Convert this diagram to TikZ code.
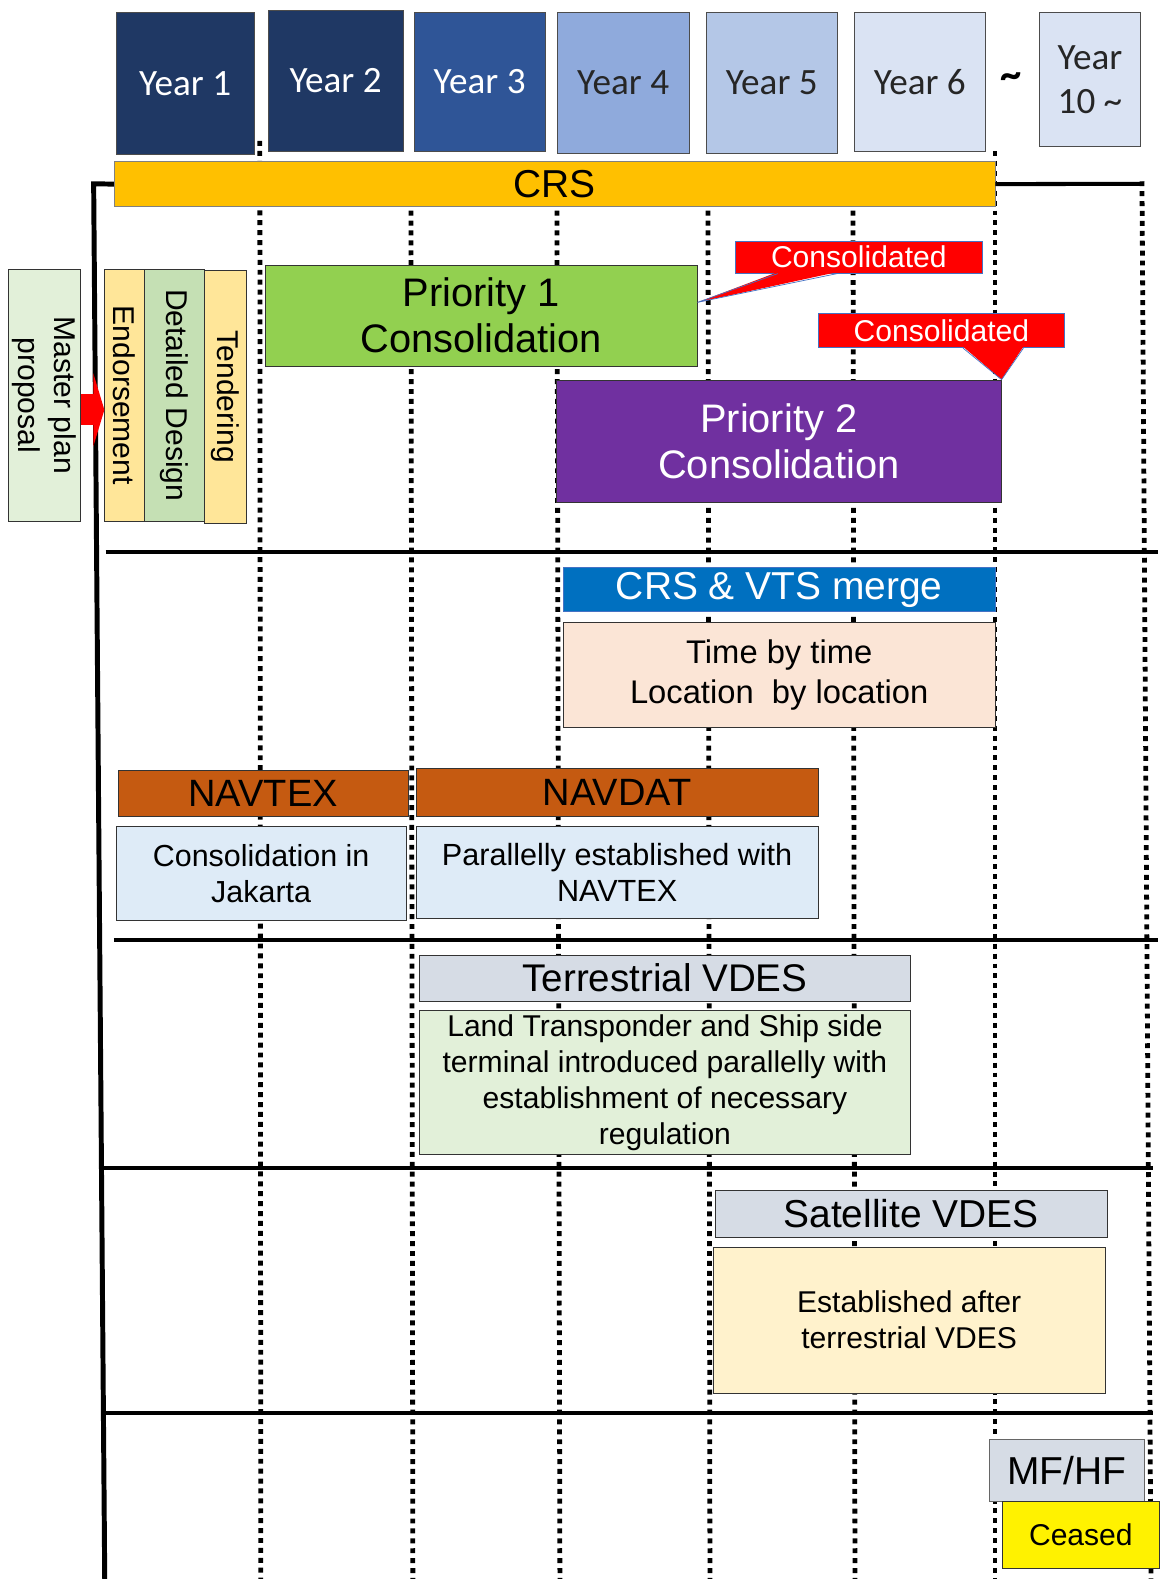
\documentclass[tikz,border=0pt]{standalone}
\usepackage{fontspec}
\setmainfont{Liberation Sans}
\newfontfamily\yearfont{Carlito}
\usepackage{tikz}
\usetikzlibrary{arrows.meta,calc}
\definecolor{yearone}{RGB}{31,56,100}
\definecolor{yearthree}{RGB}{47,85,151}
\definecolor{yearfour}{RGB}{143,170,220}
\definecolor{yearfive}{RGB}{180,199,231}
\definecolor{yearsix}{RGB}{218,227,243}
\definecolor{crsorange}{RGB}{255,192,0}
\definecolor{palegreen}{RGB}{226,240,217}
\definecolor{paleyellow}{RGB}{255,230,153}
\definecolor{sagegreen}{RGB}{197,224,180}
\definecolor{limegreen}{RGB}{146,208,80}
\definecolor{prioritypurple}{RGB}{112,48,160}
\definecolor{vtsblue}{RGB}{0,112,192}
\definecolor{peach}{RGB}{251,229,214}
\definecolor{rust}{RGB}{197,90,17}
\definecolor{iceblue}{RGB}{222,235,247}
\definecolor{slate}{RGB}{214,220,229}
\definecolor{cream}{RGB}{255,242,204}
\definecolor{tagblue}{RGB}{68,114,196}
\newcommand\fsz[2]{\fontsize{#1}{#2}\selectfont}

\tikzset{
  yearbox/.style={draw=black!70,anchor=north west,inner sep=0pt,align=center,
    font=\yearfont\fsz{21}{25}},
  taskbox/.style={draw=black!80,anchor=north west,inner sep=0pt,align=center},
  vbox/.style={draw=black!80,rotate=-90,inner sep=0pt,align=center,font=\fsz{17}{20}},
  redtag/.style={fill=red,draw=tagblue,thin,text=white,anchor=north west,inner sep=0pt,
    font=\fsz{17}{20}},
  gridline/.style={line width=2.7pt,dash pattern=on 2.8pt off 2.8pt},
  rowline/.style={line width=2.3pt},
  planarrow/.style={draw=red,line width=0.62cm,-{Triangle[width=1.45cm,length=0.22cm]}}
}

\begin{document}
\begin{tikzpicture}[x=0.02cm,y=-0.02cm]
\useasboundingbox (0,0) rectangle (1153,1568);

% time grid
\foreach \x/\ya/\xb in {258/140/259, 408/160/410, 553/160/556, 703/160/705, 847/160/849, 988/150/988, 1134/180/1143}
  \draw[gridline] (\x,\ya) -- (\xb,1568);
\foreach \y/\xa/\xb in {548/105/1150, 933/113/1150, 1160/103/1145, 1403/103/1145}
  \draw[rowline] (\xa,\y) -- (\xb,\y);

% years
\node[yearbox,fill=yearone,text=white,minimum width=2.74cm,minimum height=2.82cm] (y1) at (115,12) {Year 1};
\node[yearbox,fill=yearone,text=white,minimum width=2.68cm,minimum height=2.80cm] (y2) at (266,10) {Year 2};
\node[yearbox,fill=yearthree,text=white,minimum width=2.60cm,minimum height=2.76cm] (y3) at (411,12) {Year 3};
\node[yearbox,fill=yearfour,text=black!85,minimum width=2.62cm,minimum height=2.80cm] (y4) at (553,12) {Year 4};
\node[yearbox,fill=yearfive,text=black!85,minimum width=2.60cm,minimum height=2.80cm] (y5) at (701,12) {Year 5};
\node[yearbox,fill=yearsix,text=black!85,minimum width=2.60cm,minimum height=2.76cm] (y6) at (848,12) {Year 6};
\node[font=\yearfont\bfseries\fsz{24}{26}] (tilde) at (1004,80) {\textasciitilde};
\node[yearbox,fill=yearsix,text=black!85,minimum width=2.00cm,minimum height=2.66cm] (y10) at (1032,12) {Year\\10 \textasciitilde};

% CRS
\node[taskbox,fill=crsorange,draw=black!50,minimum width=17.50cm,minimum height=0.90cm,font=\fsz{22}{24}] (crs) at (113,160) {CRS};
\coordinate (crsend) at (1136,182.5);
\coordinate (spinetop) at (93,182.5);
\coordinate (spinebot) at (104,1568);
\draw[line width=2.3pt] (crs.east) -- (crsend);
\draw[line width=2.8pt] (crs.west) -- (spinetop) -- (spinebot);

% preparation
\node[vbox,fill=palegreen,minimum width=5.02cm,minimum height=1.44cm] (master) at (44,392.5) {Master plan\\proposal};
\node[vbox,fill=paleyellow,minimum width=5.02cm,minimum height=0.78cm] (endorse) at (123.5,392.5) {Endorsement};
\node[vbox,fill=sagegreen,minimum width=5.02cm,minimum height=1.20cm] (design) at (173,392.5) {Detailed Design};
\node[vbox,fill=paleyellow,minimum width=5.04cm,minimum height=0.84cm] (tender) at (224,394) {Tendering};
\draw[planarrow] ([yshift=-0.29cm]master.north) -- ([yshift=-0.29cm]endorse.south);

% priorities
\node[taskbox,fill=limegreen,minimum width=8.58cm,minimum height=2.00cm,font=\fsz{22.5}{26}] (prio1) at (263,263) {Priority 1\\Consolidation};
\node[taskbox,fill=prioritypurple,text=white,minimum width=8.84cm,minimum height=2.44cm,font=\fsz{22.5}{26}] (prio2) at (552,377) {Priority 2\\Consolidation};
\node[redtag,minimum width=4.90cm,minimum height=0.64cm] (tagone) at (730,239) {Consolidated};
\node[redtag,minimum width=4.90cm,minimum height=0.68cm] (tagtwo) at (812,311) {Consolidated};
\coordinate (tipone) at ($(prio1.north east)!0.37!(prio1.south east)$);
\fill[red] ([xshift=-1.61cm,yshift=0.03cm]tagone.south) -- (tipone) -- ([xshift=-0.43cm,yshift=0.03cm]tagone.south) -- cycle;
\draw[tagblue,thin] ([xshift=-1.61cm]tagone.south) -- (tipone) -- ([xshift=-0.43cm]tagone.south);
\fill[red] ([xshift=0.43cm,yshift=0.03cm]tagtwo.south) -- (prio2.north east) -- ([xshift=1.63cm,yshift=0.03cm]tagtwo.south) -- cycle;
\draw[tagblue,thin] ([xshift=0.43cm]tagtwo.south) -- (prio2.north east) -- ([xshift=1.63cm]tagtwo.south);

% CRS & VTS
\node[taskbox,fill=vtsblue,text=white,draw=tagblue,minimum width=8.58cm,minimum height=0.88cm,font=\fsz{22}{24}] (merge) at (559,563) {CRS \& VTS merge};
\node[taskbox,fill=peach,minimum width=8.58cm,minimum height=2.08cm,font=\fsz{18.5}{23}] (timeloc) at (559,618) {Time by time\\Location~ by location};

% NAVTEX / NAVDAT
\node[taskbox,fill=rust,minimum width=5.76cm,minimum height=0.90cm,font=\fsz{21.5}{24}] (navtex) at (117,765) {NAVTEX};
\node[taskbox,fill=rust,minimum width=7.98cm,minimum height=0.94cm,font=\fsz{21.5}{24}] (navdat) at (413,763) {NAVDAT};
\node[taskbox,fill=iceblue,minimum width=5.76cm,minimum height=1.88cm,font=\fsz{17.2}{20.5}] (jakarta) at (115,820) {Consolidation in\\Jakarta};
\node[taskbox,fill=iceblue,minimum width=7.98cm,minimum height=1.84cm,font=\fsz{17.3}{20.5}] (parallel) at (413,820) {Parallelly established with\\NAVTEX};

% VDES
\node[taskbox,fill=slate,minimum width=9.76cm,minimum height=0.92cm,font=\fsz{21.8}{24}] (terr) at (416,948) {Terrestrial VDES};
\node[taskbox,fill=palegreen,minimum width=9.76cm,minimum height=2.86cm,font=\fsz{17}{20.4}] (land) at (416,1003) {Land Transponder and Ship side\\terminal introduced parallelly with\\establishment of necessary\\regulation};
\node[taskbox,fill=slate,minimum width=7.78cm,minimum height=0.92cm,font=\fsz{22}{24}] (sat) at (710,1182) {Satellite VDES};
\node[taskbox,fill=cream,minimum width=7.78cm,minimum height=2.90cm,font=\fsz{17}{20.4}] (after) at (708,1238) {Established after\\terrestrial VDES};

% MF/HF
\node[taskbox,fill=slate,draw=black!60,minimum width=3.08cm,minimum height=1.24cm,font=\fsz{22}{24}] (mfhf) at (982,1429) {MF/HF};
\node[taskbox,fill=yellow,minimum width=3.12cm,minimum height=1.32cm,font=\fsz{17}{20}] (ceased) at (995,1491) {Ceased};
\end{tikzpicture}
\end{document}
